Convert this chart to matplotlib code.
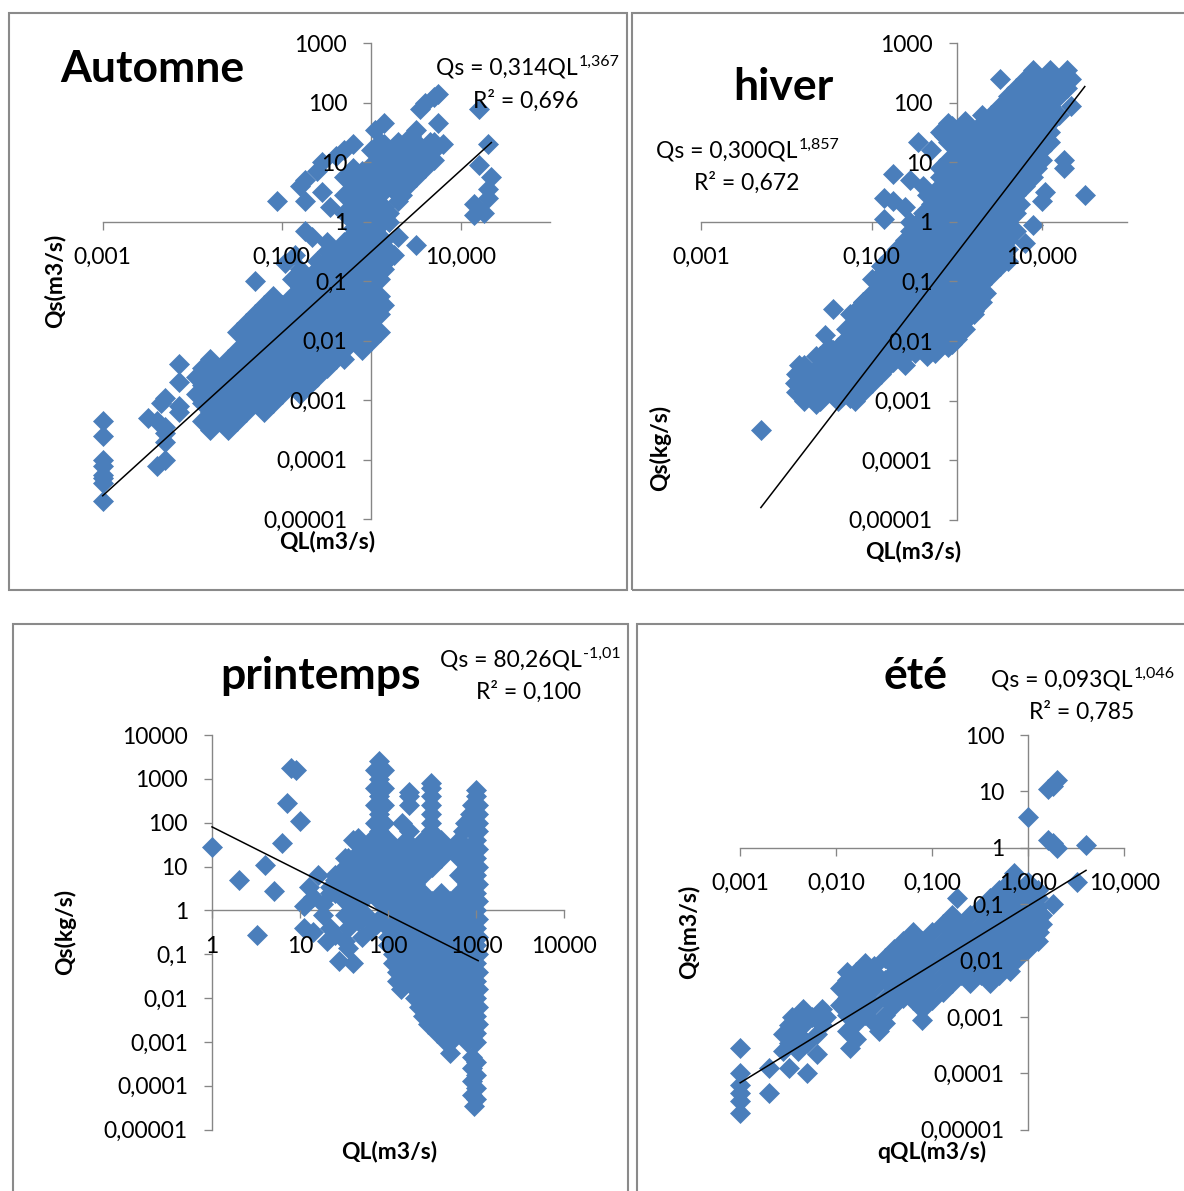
import matplotlib
matplotlib.use("Agg")
import matplotlib.pyplot as plt
from matplotlib.ticker import FixedLocator, FixedFormatter, NullLocator
from matplotlib.patches import Rectangle
import numpy as np

W, H = 1184, 1191
plt.rcParams['font.family'] = ['Lato', 'DejaVu Sans']

BLUE = '#4A7EBB'
GREY = '#868686'

# ---------------------------------------------------------------- data
# (QL, Qs) pairs per season
automne = [
    (5.6, 141), (5.0, 126), (4.0, 100), (3.5, 79), (5.6, 45), (16, 79), (20, 20), (16, 8.9), (22, 5.6),
    (20, 3.5), (20, 2.5), (14, 2.0), (18, 1.4), (14, 1.3), (6.3, 20), (5.0, 16), (4.0, 10), (3.5, 13),
    (2.8, 28), (2.5, 22), (2.2, 16), (1.8, 18), (1.4, 20), (1.4, 45), (1.1, 35), (3.2, 35), (4.5, 22),
    (3.2, 0.4), (2.0, 0.56),
    (0.63, 20), (0.5, 16), (0.4, 13), (0.28, 10), (0.25, 7.1), (0.18, 5.0), (0.16, 4.0), (0.28, 3.2),
    (0.18, 2.2), (0.35, 1.8), (0.089, 2.2), (0.18, 0.71), (0.22, 0.56), (0.32, 0.45), (0.56, 0.5),
    (0.56, 5.6), (0.79, 7.1), (1.0, 8.9), (1.26, 7.1), (1.6, 6.3), (2.0, 5.6), (2.5, 4.5), (1.8, 3.5),
    (1.26, 3.2), (1.0, 4.0), (0.71, 4.0), (0.56, 2.5), (0.79, 2.0), (1.0, 2.0), (1.4, 1.8), (1.6, 1.4),
    (0.63, 1.4), (0.89, 1.1), (1.4, 5.0), (0.89, 5.6), (2.8, 6.3), (2.2, 2.8), (1.1, 1.4), (2.0, 2.2),
    (1.26, 22), (2.0, 22), (3.2, 22), (5.0, 22),
    (1.0, 16), (1.6, 16), (2.5, 16), (4.0, 16),
    (1.26, 11), (2.0, 11), (3.2, 11), (5.0, 11),
    (0.63, 7.9), (1.0, 7.9), (1.6, 7.9), (2.5, 7.9), (4.0, 7.9),
    (0.5, 5.6), (0.79, 5.6), (1.26, 5.6), (2.0, 5.6), (3.2, 5.6),
    (0.63, 4.0), (1.0, 4.0), (1.6, 4.0), (2.5, 4.0),
    (0.5, 2.8), (0.79, 2.8), (1.26, 2.8), (2.0, 2.8),
    (0.63, 2.0), (1.0, 2.0),
    (0.5, 1.4), (0.79, 1.4), (1.26, 1.4),
    (0.63, 1.0), (1.0, 1.0), (1.6, 1.0),
    (0.63, 0.79), (0.79, 0.63), (1.1, 0.71), (1.4, 0.5), (1.26, 0.35), (1.6, 0.25), (1.4, 0.16),
    (1.1, 0.1), (1.0, 0.071), (1.1, 0.035), (1.1, 0.025), (0.05, 0.1), (1.4, 0.04), (1.4, 0.2),
    (1.8, 0.28), (0.14, 0.28), (0.11, 0.2),
    (0.0071, 0.004), (0.0071, 0.002), (0.005, 0.0011), (0.0045, 0.00089), (0.0071, 0.00079),
    (0.0032, 0.0005), (0.004, 0.00045), (0.005, 0.00035), (0.005, 0.00028), (0.005, 0.0002),
    (0.004, 7.9e-5), (0.005, 1e-4), (0.0071, 0.00063),
    (0.001, 4.5e-4), (0.001, 2.5e-4), (0.001, 1e-4), (0.001, 7.9e-5), (0.001, 5.6e-5), (0.001, 5e-5),
    (0.001, 4e-5), (0.001, 2e-5),
    (0.016, 3.2e-4), (0.025, 3.2e-4),
    (0.013, 4.5e-4), (0.02, 4.5e-4), (0.032, 4.5e-4),
    (0.016, 6.3e-4), (0.025, 6.3e-4), (0.04, 6.3e-4), (0.063, 6.3e-4),
    (0.013, 8.9e-4), (0.02, 8.9e-4), (0.032, 8.9e-4), (0.05, 8.9e-4), (0.079, 8.9e-4),
    (0.011, 1.26e-3), (0.016, 1.26e-3), (0.025, 1.26e-3), (0.04, 1.26e-3), (0.063, 1.26e-3),
    (0.1, 1.26e-3), (0.16, 1.26e-3),
    (0.013, 1.8e-3), (0.02, 1.8e-3), (0.032, 1.8e-3), (0.05, 1.8e-3), (0.079, 1.8e-3), (0.13, 1.8e-3),
    (0.2, 1.8e-3),
    (0.011, 2.5e-3), (0.016, 2.5e-3), (0.025, 2.5e-3), (0.04, 2.5e-3), (0.063, 2.5e-3), (0.1, 2.5e-3),
    (0.16, 2.5e-3), (0.25, 2.5e-3),
    (0.013, 3.5e-3), (0.02, 3.5e-3), (0.032, 3.5e-3), (0.05, 3.5e-3), (0.079, 3.5e-3), (0.13, 3.5e-3),
    (0.2, 3.5e-3), (0.32, 3.5e-3),
    (0.016, 5e-3), (0.025, 5e-3), (0.04, 5e-3), (0.063, 5e-3), (0.1, 5e-3), (0.16, 5e-3), (0.25, 5e-3),
    (0.4, 5e-3), (0.5, 5e-3),
    (0.032, 7.1e-3), (0.05, 7.1e-3), (0.079, 7.1e-3), (0.13, 7.1e-3), (0.2, 7.1e-3), (0.32, 7.1e-3),
    (0.5, 7.1e-3), (0.79, 7.1e-3),
    (0.04, 0.01), (0.063, 0.01), (0.1, 0.01), (0.16, 0.01), (0.25, 0.01), (0.4, 0.01), (0.63, 0.01),
    (1.0, 0.01),
    (0.032, 0.014), (0.05, 0.014), (0.079, 0.014), (0.13, 0.014), (0.2, 0.014), (0.32, 0.014),
    (0.5, 0.014), (0.79, 0.014), (1.26, 0.014),
    (0.04, 0.02), (0.063, 0.02), (0.1, 0.02), (0.16, 0.02), (0.25, 0.02), (0.4, 0.02), (0.63, 0.02),
    (1.0, 0.02),
    (0.05, 0.028), (0.079, 0.028), (0.13, 0.028), (0.2, 0.028), (0.32, 0.028), (0.5, 0.028),
    (0.79, 0.028), (1.26, 0.028),
    (0.063, 0.04), (0.1, 0.04), (0.16, 0.04), (0.25, 0.04), (0.4, 0.04), (0.63, 0.04), (1.0, 0.04),
    (0.079, 0.056), (0.13, 0.056), (0.2, 0.056), (0.32, 0.056), (0.5, 0.056), (0.79, 0.056), (1.26, 0.056),
    (0.16, 0.079), (0.25, 0.079), (0.4, 0.079), (0.63, 0.079), (1.0, 0.079),
    (0.13, 0.11), (0.2, 0.11), (0.32, 0.11), (0.5, 0.11), (0.79, 0.11), (1.26, 0.11),
    (0.16, 0.16), (0.25, 0.16), (0.4, 0.16), (0.63, 0.16), (1.0, 0.16),
    (0.25, 0.22), (0.32, 0.22), (0.5, 0.22), (0.79, 0.22), (1.26, 0.22),
    (0.32, 0.32), (0.4, 0.32), (0.63, 0.32), (1.0, 0.32), (1.6, 0.32),
    (0.5, 0.45), (0.79, 0.45), (1.26, 0.45),
    (0.63, 0.63), (1.0, 0.63),
    (0.79, 0.89), (1.26, 0.89),
]

hiver = [
    (0.005, 3.2e-4), (3.2, 251), (22, 89), (32, 2.8), (18, 11), (18, 7.9), (10, 2.2), (7.9, 0.89),
    (5.0, 0.71), (0.14, 1.1), (0.14, 2.5), (0.18, 2.2), (0.18, 6.3), (0.35, 22), (0.5, 16), (0.71, 28),
    (0.89, 40), (1.26, 50), (0.28, 5.0), (0.4, 4.0), (0.45, 2.8), (0.25, 1.8), (0.28, 1.0), (0.1, 0.11),
    (0.035, 0.035), (0.079, 0.045), (0.056, 0.028), (0.028, 0.0126), (0.022, 0.0056), (0.014, 0.004),
    (0.014, 0.0014), (0.018, 0.002), (0.022, 8.9e-4), (0.035, 0.0071), (0.056, 0.0011), (0.071, 0.0018),
    (0.18, 0.0045), (0.32, 0.0063), (0.56, 0.0063), (0.89, 0.0089), (1.6, 0.028), (1.8, 0.045),
    (4.0, 0.22), (6.3, 0.45), (11, 3.2),
    (7.9, 350), (12.6, 350), (20, 350),
    (6.3, 250), (10, 250), (16, 250), (22, 250),
    (5.0, 180), (7.9, 180), (12.6, 180), (20, 180),
    (4.0, 130), (6.3, 130), (10, 130), (16, 130),
    (3.2, 89), (5.0, 89), (7.9, 89), (12.6, 89),
    (2.0, 63), (2.5, 63), (4.0, 63), (6.3, 63), (10, 63), (16, 63),
    (0.79, 45), (1.26, 45), (2.0, 45), (3.2, 45), (5.0, 45), (7.9, 45), (12.6, 45),
    (0.63, 32), (1.0, 32), (1.6, 32), (2.5, 32), (4.0, 32), (6.3, 32), (10, 32), (12.6, 32),
    (0.79, 22), (1.26, 22), (2.0, 22), (3.2, 22), (5.0, 22), (7.9, 22), (12.6, 22),
    (1.0, 16), (1.6, 16), (2.5, 16), (4.0, 16), (6.3, 16), (10, 16),
    (0.79, 11), (1.26, 11), (2.0, 11), (3.2, 11), (5.0, 11), (7.9, 11), (10, 11),
    (0.63, 7.9), (1.0, 7.9), (1.6, 7.9), (2.5, 7.9), (4.0, 7.9), (6.3, 7.9), (8.9, 7.9),
    (0.63, 5.6), (0.79, 5.6), (1.26, 5.6), (2.0, 5.6), (3.2, 5.6), (5.0, 5.6), (7.9, 5.6),
    (0.63, 4.0), (1.0, 4.0), (1.6, 4.0), (2.5, 4.0), (4.0, 4.0), (6.3, 4.0),
    (0.5, 2.8), (0.79, 2.8), (1.26, 2.8), (2.0, 2.8), (3.2, 2.8), (5.0, 2.8),
    (0.5, 2.0), (0.63, 2.0), (1.0, 2.0), (1.6, 2.0), (2.5, 2.0), (4.0, 2.0), (5.6, 2.0),
    (0.4, 1.4), (0.5, 1.4), (0.79, 1.4), (1.26, 1.4), (2.0, 1.4), (3.2, 1.4), (5.0, 1.4),
    (0.35, 1.0), (0.4, 1.0), (0.63, 1.0), (1.0, 1.0), (1.6, 1.0), (2.5, 1.0), (4.0, 1.0),
    (0.28, 0.71), (0.32, 0.71), (0.5, 0.71), (0.79, 0.71), (1.26, 0.71), (2.0, 0.71), (3.2, 0.71), (4.0, 0.71),
    (0.25, 0.5), (0.4, 0.5), (0.63, 0.5), (1.0, 0.5), (1.6, 0.5), (2.5, 0.5), (4.0, 0.5),
    (0.2, 0.35), (0.32, 0.35), (0.5, 0.35), (0.79, 0.35), (1.26, 0.35), (2.0, 0.35), (3.2, 0.35), (4.0, 0.35),
    (0.16, 0.25), (0.25, 0.25), (0.4, 0.25), (0.63, 0.25), (1.0, 0.25), (1.6, 0.25), (2.5, 0.25), (3.2, 0.25),
    (0.13, 0.18), (0.2, 0.18), (0.32, 0.18), (0.5, 0.18), (0.79, 0.18), (1.26, 0.18), (2.0, 0.18), (3.2, 0.18),
    (0.126, 0.126), (0.16, 0.126), (0.25, 0.126), (0.4, 0.126), (0.63, 0.126), (1.0, 0.126), (1.6, 0.126),
    (2.5, 0.126),
    (0.13, 0.089), (0.2, 0.089), (0.32, 0.089), (0.5, 0.089), (0.79, 0.089), (1.26, 0.089), (2.0, 0.089),
    (0.1, 0.063), (0.16, 0.063), (0.25, 0.063), (0.4, 0.063), (0.63, 0.063), (1.0, 0.063), (1.6, 0.063),
    (2.2, 0.063),
    (0.079, 0.045), (0.13, 0.045), (0.2, 0.045), (0.32, 0.045), (0.5, 0.045), (0.79, 0.045), (1.26, 0.045),
    (2.0, 0.045),
    (0.063, 0.032), (0.1, 0.032), (0.16, 0.032), (0.25, 0.032), (0.4, 0.032), (0.63, 0.032), (1.0, 0.032),
    (1.6, 0.032),
    (0.063, 0.022), (0.079, 0.022), (0.13, 0.022), (0.2, 0.022), (0.32, 0.022), (0.5, 0.022), (0.79, 0.022),
    (1.26, 0.022),
    (0.05, 0.016), (0.063, 0.016), (0.1, 0.016), (0.16, 0.016), (0.25, 0.016), (0.4, 0.016), (0.63, 0.016),
    (1.0, 0.016), (1.26, 0.016),
    (0.05, 0.011), (0.079, 0.011), (0.13, 0.011), (0.2, 0.011), (0.32, 0.011), (0.5, 0.011), (0.79, 0.011),
    (1.0, 0.011),
    (0.032, 0.0079), (0.04, 0.0079), (0.063, 0.0079), (0.1, 0.0079), (0.16, 0.0079), (0.25, 0.0079),
    (0.4, 0.0079), (0.63, 0.0079), (0.79, 0.0079),
    (0.025, 0.0056), (0.032, 0.0056), (0.05, 0.0056), (0.079, 0.0056), (0.13, 0.0056), (0.2, 0.0056),
    (0.25, 0.0056), (0.45, 0.0056),
    (0.016, 0.004), (0.025, 0.004), (0.04, 0.004), (0.063, 0.004), (0.1, 0.004), (0.16, 0.004), (0.25, 0.004),
    (0.013, 0.0028), (0.02, 0.0028), (0.032, 0.0028), (0.05, 0.0028), (0.079, 0.0028), (0.13, 0.0028),
    (0.0126, 0.002), (0.016, 0.002), (0.025, 0.002), (0.04, 0.002), (0.063, 0.002), (0.1, 0.002),
    (0.013, 0.0014), (0.02, 0.0014), (0.032, 0.0014), (0.05, 0.0014), (0.079, 0.0014),
    (0.016, 0.001), (0.025, 0.001), (0.04, 0.001), (0.063, 0.001),
]

printemps = [
    (1.0, 28), (2.0, 5.0), (3.2, 0.28), (4.0, 11), (5.0, 2.8), (6.3, 35), (7.1, 280), (7.9, 1800),
    (8.9, 1600), (10, 112), (11, 1.26), (12.6, 3.5), (16, 6.3), (18, 1.4), (11, 0.4), (14, 0.32),
    (20, 0.2), (28, 0.071), (40, 0.063), (32, 0.2), (45, 45), (32, 16),
    (40, 1.26), (32, 0.79), (45, 0.56), (56, 0.79), (35, 0.4), (50, 0.25), (63, 0.35), (25, 0.28),
    (35, 0.14), (22, 0.4), (18, 0.79), (14, 2.0), (25, 5.0), (22, 3.5), (63, 14), (35, 7.1), (45, 10),
    (56, 4.0),
    (79, 2500),
    (71, 1600), (89, 1600),
    (79, 1000), (310, 790),
    (71, 630), (89, 630), (170, 500), (310, 630),
    (79, 400), (170, 400), (310, 400), (1000, 560), (1000, 400),
    (71, 250), (89, 250), (170, 250), (310, 250), (900, 250), (1050, 250),
    (79, 160), (310, 160), (850, 160), (1050, 160),
    (71, 100), (89, 100), (145, 100), (310, 100), (750, 100), (1050, 100),
    (79, 63), (170, 63), (310, 63), (700, 63), (890, 63), (1050, 63),
    (40, 40), (63, 40), (100, 40), (158, 40), (251, 40), (400, 40), (630, 40), (1000, 40),
    (50, 25), (79, 25), (126, 25), (200, 25), (316, 25), (500, 25), (790, 25), (1050, 25),
    (35, 16), (40, 16), (63, 16), (100, 16), (158, 16), (251, 16), (400, 16), (630, 16), (1000, 16),
    (32, 10), (50, 10), (79, 10), (126, 10), (200, 10), (316, 10), (790, 10), (1050, 10),
    (25, 6.3), (40, 6.3), (63, 6.3), (100, 6.3), (158, 6.3), (251, 6.3), (630, 6.3), (1000, 6.3),
    (25, 4.0), (32, 4.0), (50, 4.0), (79, 4.0), (126, 4.0), (200, 4.0), (790, 4.0), (1050, 4.0),
    (22, 2.5), (25, 2.5), (40, 2.5), (63, 2.5), (100, 2.5), (158, 2.5), (251, 2.5), (400, 2.5), (630, 2.5),
    (1000, 2.5),
    (32, 1.6), (50, 1.6), (79, 1.6), (126, 1.6), (200, 1.6), (316, 1.6), (500, 1.6), (790, 1.6), (1050, 1.6),
    (40, 1.0), (100, 1.0), (158, 1.0), (251, 1.0), (400, 1.0), (630, 1.0), (1000, 1.0),
    (50, 0.63), (79, 0.63), (126, 0.63), (200, 0.63), (316, 0.63), (500, 0.63), (790, 0.63), (1050, 0.63),
    (100, 0.4), (158, 0.4), (251, 0.4), (400, 0.4), (630, 0.4), (1000, 0.4),
    (100, 0.25), (126, 0.25), (200, 0.25), (316, 0.25), (500, 0.25), (790, 0.25), (1050, 0.25),
    (100, 0.16), (158, 0.16), (251, 0.16), (400, 0.16), (630, 0.16), (1000, 0.16),
    (112, 0.1), (126, 0.1), (200, 0.1), (316, 0.1), (500, 0.1), (790, 0.1), (1050, 0.1),
    (112, 0.063), (158, 0.063), (251, 0.063), (400, 0.063), (630, 0.063), (1000, 0.063),
    (126, 0.04), (200, 0.04), (316, 0.04), (500, 0.04), (790, 0.04), (1050, 0.04),
    (126, 0.025), (158, 0.025), (251, 0.025), (400, 0.025), (630, 0.025), (1000, 0.025),
    (141, 0.016), (200, 0.016), (316, 0.016), (500, 0.016), (790, 0.016), (1050, 0.016),
    (200, 0.01), (251, 0.01), (400, 0.01), (630, 0.01), (1000, 0.01),
    (224, 0.0063), (316, 0.0063), (500, 0.0063), (790, 0.0063), (1050, 0.0063),
    (251, 0.004), (400, 0.004), (630, 0.004), (1000, 0.004),
    (280, 0.0025), (316, 0.0025), (500, 0.0025), (790, 0.0025), (1050, 0.0025),
    (355, 0.0016), (400, 0.0016), (630, 0.0016), (1000, 0.0016),
    (450, 0.001), (500, 0.001), (790, 0.001), (1000, 0.001),
    (500, 5.6e-4),
    (890, 4.5e-4), (1000, 3.5e-4), (890, 2.5e-4), (1000, 1.8e-4), (890, 1.26e-4), (1000, 8.9e-5),
    (890, 6.3e-5), (1000, 5e-5), (950, 3.5e-5),
]

ete = [
    (1.6, 11), (2.0, 16), (1.8, 12.6), (1.0, 3.5), (1.6, 1.4), (2.0, 1.0), (1.8, 1.2), (4.0, 1.1),
    (3.2, 0.25), (1.8, 0.1), (0.18, 0.126),
    (0.001, 2.8e-4), (0.001, 1.0e-4), (0.001, 6.3e-5), (0.001, 4.5e-5), (0.001, 3.2e-5), (0.001, 2.0e-5),
    (0.002, 1.26e-4), (0.002, 4.5e-5), (0.005, 1.0e-4), (0.0032, 1.26e-4), (0.0063, 2.2e-4),
    (0.0045, 1.4e-3), (0.0071, 1.4e-3),
    (0.0035, 1.0e-3), (0.0056, 1.0e-3), (0.0079, 1.0e-3),
    (0.0032, 7.1e-4), (0.0045, 7.1e-4), (0.0071, 7.1e-4),
    (0.0028, 5.0e-4), (0.004, 5.0e-4), (0.0063, 5.0e-4),
    (0.0032, 3.5e-4), (0.005, 3.5e-4),
    (0.0028, 2.5e-4), (0.004, 2.5e-4),
    (0.02, 8.9e-3),
    (0.013, 6.3e-3), (0.016, 6.3e-3), (0.025, 6.3e-3), (0.04, 6.3e-3),
    (0.013, 4.5e-3), (0.02, 4.5e-3), (0.032, 4.5e-3), (0.05, 4.5e-3),
    (0.011, 3.2e-3), (0.016, 3.2e-3), (0.025, 3.2e-3), (0.04, 3.2e-3),
    (0.013, 2.2e-3), (0.02, 2.2e-3), (0.032, 2.2e-3), (0.05, 2.2e-3),
    (0.011, 1.6e-3), (0.016, 1.6e-3), (0.025, 1.6e-3), (0.04, 1.6e-3),
    (0.013, 1.1e-3), (0.02, 1.1e-3), (0.032, 1.1e-3),
    (0.016, 7.9e-4), (0.025, 7.9e-4), (0.032, 7.9e-4),
    (0.013, 5.6e-4), (0.028, 5.6e-4),
    (0.016, 4.0e-4),
    (0.014, 2.8e-4),
    (0.71, 0.35),
    (0.63, 0.25), (1.0, 0.25),
    (0.5, 0.18), (0.79, 0.18), (1.26, 0.18),
    (0.4, 0.126), (0.63, 0.126), (1.0, 0.126), (1.26, 0.126),
    (0.32, 0.089), (0.5, 0.089), (0.79, 0.089), (1.26, 0.089),
    (0.16, 0.063), (0.25, 0.063), (0.4, 0.063), (0.63, 0.063), (1.0, 0.063), (1.4, 0.063),
    (0.13, 0.045), (0.2, 0.045), (0.32, 0.045), (0.5, 0.045), (0.79, 0.045), (1.26, 0.045), (1.4, 0.045),
    (0.063, 0.032), (0.1, 0.032), (0.16, 0.032), (0.25, 0.032), (0.4, 0.032), (0.63, 0.032), (1.0, 0.032),
    (1.3, 0.032),
    (0.05, 0.022), (0.079, 0.022), (0.13, 0.022), (0.2, 0.022), (0.32, 0.022), (0.5, 0.022), (0.79, 0.022),
    (1.26, 0.022),
    (0.04, 0.016), (0.063, 0.016), (0.1, 0.016), (0.16, 0.016), (0.25, 0.016), (0.4, 0.016), (0.63, 0.016),
    (1.0, 0.016),
    (0.032, 0.011), (0.05, 0.011), (0.079, 0.011), (0.13, 0.011), (0.2, 0.011), (0.32, 0.011), (0.5, 0.011),
    (0.79, 0.011),
    (0.025, 0.0079), (0.04, 0.0079), (0.063, 0.0079), (0.1, 0.0079), (0.16, 0.0079), (0.25, 0.0079),
    (0.4, 0.0079), (0.63, 0.0079),
    (0.05, 0.0056), (0.079, 0.0056), (0.13, 0.0056), (0.2, 0.0056), (0.32, 0.0056), (0.5, 0.0056),
    (0.65, 0.0066),
    (0.063, 0.004), (0.1, 0.004), (0.16, 0.004), (0.25, 0.004), (0.4, 0.004),
    (0.05, 0.0028), (0.079, 0.0028), (0.13, 0.0028),
    (0.063, 0.002), (0.1, 0.002),
    (0.079, 0.0014),
    (0.079, 8.9e-4),
]

# power-law fits Qs = a * QL^b and R², as printed on each panel
fit_automne = (0.314, 1.367, "0,696")
fit_hiver = (0.300, 1.857, "0,672")
fit_printemps = (80.26, -1.01, "0,100")
fit_ete = (0.093, 1.046, "0,785")

dec_ticks = [1e-5, 1e-4, 1e-3, 1e-2, 1e-1, 1, 10, 100, 1000, 1e4]
dec_labels = ["0,00001", "0,0001", "0,001", "0,01", "0,1", "1", "10", "100", "1000", "10000"]

fig = plt.figure(figsize=(W / 100, H / 100), dpi=100)


def fx(px):
    return px / W


def fy(py):
    return 1 - py / H


# panel frames
for (x0, y0, x1, y1) in [(8.8, 13.4, 626.7, 590), (631.5, 13.4, 1195, 590),
                         (12.9, 624.5, 627.7, 1200), (636.5, 624.5, 1195, 1200)]:
    fig.add_artist(Rectangle((fx(x0), fy(y1)), fx(x1) - fx(x0), fy(y0) - fy(y1),
                             transform=fig.transFigure, fill=False, ec='#8a8a8a', lw=1.5, zorder=-1))


def panel(box, xlim, ylim, xticks, xlabels, data, fit):
    left, right, top, bottom = box
    ax = fig.add_axes([fx(left), fy(bottom), fx(right) - fx(left), fy(top) - fy(bottom)])
    ax.set_xscale('log')
    ax.set_yscale('log')
    ax.set_xlim(*xlim)
    ax.set_ylim(*ylim)
    ax.patch.set_alpha(0)
    for s in ('top', 'right'):
        ax.spines[s].set_visible(False)
    ax.spines['left'].set_position(('data', 1))
    ax.spines['bottom'].set_position(('data', 1))
    for s in ('left', 'bottom'):
        ax.spines[s].set_color(GREY)
        ax.spines[s].set_linewidth(1.0)
        ax.spines[s].set_zorder(1)
    yt = [t for t in dec_ticks if ylim[0] <= t <= ylim[1]]
    yl = [l for t, l in zip(dec_ticks, dec_labels) if ylim[0] <= t <= ylim[1]]
    ax.xaxis.set_major_locator(FixedLocator(xticks))
    ax.xaxis.set_major_formatter(FixedFormatter(xlabels))
    ax.yaxis.set_major_locator(FixedLocator(yt))
    ax.yaxis.set_major_formatter(FixedFormatter(yl))
    ax.xaxis.set_minor_locator(NullLocator())
    ax.yaxis.set_minor_locator(NullLocator())
    ax.tick_params(axis='both', which='major', direction='out', length=5.8, width=0.95,
                   color=GREY, labelsize=16.5, labelcolor='black')
    ax.tick_params(axis='x', pad=12.5)
    ax.tick_params(axis='y', pad=11.5)
    ax.xaxis.set_zorder(3)
    ax.yaxis.set_zorder(3)

    ql = np.array([p[0] for p in data])
    qs = np.array([p[1] for p in data])
    ax.plot(ql, qs, linestyle='none', marker='D', ms=10.0, mfc=BLUE, mec=BLUE, mew=0.5,
            clip_on=False, zorder=2)
    a, b, _ = fit
    xs = np.array([ql.min(), ql.max()])
    ax.plot(xs, a * xs ** b, color='black', lw=1.1, zorder=2.6, clip_on=False)
    return ax


panel((102.7, 550.2, 43.3, 519.3), (1e-3, 100), (1e-5, 1e3), [1e-3, 0.1, 10],
      ["0,001", "0,100", "10,000"], automne, fit_automne)
panel((701.4, 1126.9, 43.2, 519.7), (1e-3, 100), (1e-5, 1e3), [1e-3, 0.1, 10],
      ["0,001", "0,100", "10,000"], hiver, fit_hiver)
panel((212.0, 564.4, 735.0, 1129.6), (1, 1e4), (1e-5, 1e4), [1, 10, 100, 1000, 1e4],
      ["1", "10", "100", "1000", "10000"], printemps, fit_printemps)
panel((740.2, 1124.2, 735.0, 1129.6), (1e-3, 10), (1e-5, 100), [1e-3, 1e-2, 0.1, 1, 10],
      ["0,001", "0,010", "0,100", "1,000", "10,000"], ete, fit_ete)

renderer = fig.canvas.get_renderer()


def equation(x, y, fit, rx, ry):
    a, b, r2 = fit
    a_txt = ("%.3f" % a if a < 1 else "%.2f" % a).replace('.', ',')
    b_txt = ("%.3f" % b if b > 0 else "%.2f" % b).replace('.', ',')
    t = fig.text(fx(x), fy(y), "Qs = %sQL" % a_txt, fontsize=16.5, ha='left', va='baseline')
    bb = t.get_window_extent(renderer)
    fig.text((bb.x1 + 1) / W, fy(y - 9), b_txt, fontsize=11.5, ha='left', va='baseline')
    fig.text(fx(rx), fy(ry), "R² = %s" % r2, fontsize=16.5, ha='left', va='baseline')


equation(436, 74.6, fit_automne, 473, 108)
equation(656.5, 157.7, fit_hiver, 693.6, 190.2)
equation(440, 667, fit_printemps, 476, 698.8)
equation(991, 686.7, fit_ete, 1028.6, 719)

# titles
for x, y, name in [(60, 82.3, "Automne"), (733, 100.3, "hiver"), (220, 688.6, "printemps"),
                   (884, 688.6, "été")]:
    fig.text(fx(x), fy(y), name, fontsize=32, fontweight='bold', ha='left', va='baseline')

# axis titles
for x, y, txt, rot in [(55, 281, "Qs(m3/s)", 90), (327, 541.5, "QL(m3/s)", 0),
                       (660, 448, "Qs(kg/s)", 90), (912.7, 551, "QL(m3/s)", 0),
                       (65, 931.6, "Qs(kg/s)", 90), (389, 1152, "QL(m3/s)", 0),
                       (689, 931.7, "Qs(m3/s)", 90), (932, 1152, "qQL(m3/s)", 0)]:
    fig.text(fx(x), fy(y), txt, fontsize=16.5, fontweight='bold', rotation=rot,
             ha='center', va='center')

fig.savefig("out.png", dpi=100)
